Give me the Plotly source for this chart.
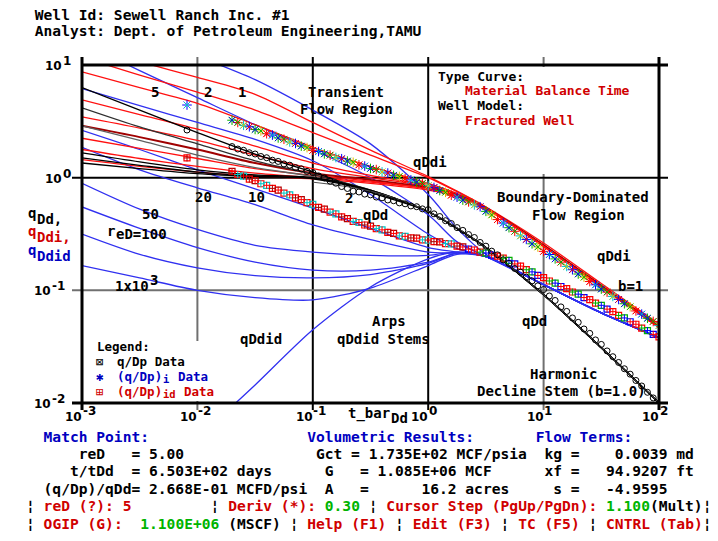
import re
import numpy as np
import plotly.graph_objects as go

# ---------------------------------------------------------------------------
# Type curves for a fractured well (material balance time), log10 values.
# Common dimensionless-time grid for every type curve.
# ---------------------------------------------------------------------------
log_t_grid = [-3.0, -2.5, -2.0, -1.5, -1.0, -0.5, 0.0, 0.25, 0.5, 1.0, 1.5, 2.0]

# qDdi (red) curves, reD = 1, 2, 5, 10, 20, 50, 100, 200, 1000
qddi_re1 = [1.18, 1.03, 0.89, 0.74, 0.49, 0.245, 0.01, -0.12, -0.26, -0.58, -0.94, -1.30]
qddi_re2 = [1.07, 0.91, 0.76, 0.60, 0.40, 0.20, 0.00, -0.125, -0.26, -0.60, -0.96, -1.32]
qddi_re5 = [0.94, 0.80, 0.66, 0.47, 0.27, 0.10, -0.05, -0.14, -0.27, -0.60, -0.96, -1.32]
qddi_re10 = [0.69, 0.56, 0.43, 0.28, 0.13, 0.02, -0.07, -0.15, -0.27, -0.60, -0.96, -1.32]
qddi_re20 = [0.54, 0.44, 0.33, 0.20, 0.08, 0.00, -0.08, -0.15, -0.27, -0.60, -0.96, -1.32]
qddi_re50 = [0.46, 0.36, 0.25, 0.13, 0.04, -0.02, -0.09, -0.155, -0.27, -0.60, -0.96, -1.32]
qddi_re100 = [0.35, 0.26, 0.17, 0.08, 0.02, -0.03, -0.10, -0.16, -0.27, -0.61, -0.97, -1.33]
qddi_re200 = [0.25, 0.17, 0.10, 0.04, 0.00, -0.04, -0.10, -0.16, -0.27, -0.61, -0.97, -1.33]
qddi_re1000 = [0.16, 0.10, 0.05, 0.015, -0.01, -0.05, -0.11, -0.17, -0.28, -0.61, -0.97, -1.33]

# qDd (black) curves, reD = 5, 10, 20, 50, 100, 1000
qdd_re5 = [0.80, 0.60, 0.40, 0.21, 0.05, -0.13, -0.30, -0.45, -0.62, -1.04, -1.51, -2.00]
qdd_re10 = [0.62, 0.45, 0.30, 0.15, 0.03, -0.11, -0.30, -0.45, -0.62, -1.04, -1.51, -2.00]
qdd_re20 = [0.46, 0.33, 0.20, 0.09, 0.01, -0.11, -0.30, -0.45, -0.62, -1.04, -1.51, -2.00]
qdd_re50 = [0.22, 0.14, 0.07, 0.025, 0.00, -0.11, -0.30, -0.45, -0.62, -1.04, -1.51, -2.00]
qdd_re100 = [0.175, 0.11, 0.05, 0.015, -0.005, -0.115, -0.30, -0.45, -0.62, -1.04, -1.51, -2.00]
qdd_re1000 = [0.13, 0.08, 0.035, 0.008, -0.01, -0.12, -0.30, -0.45, -0.62, -1.04, -1.51, -2.00]

# qDdid (blue) curves, reD = 1, 2, 5, 10, 20, 50, 100, 300, 1000
qddid_re1 = [1.50, 1.30, 1.08, 0.87, 0.60, 0.30, -0.15, -0.45, -0.68, -0.95, -1.20, -1.42]
qddid_re2 = [1.20, 0.95, 0.71, 0.47, 0.25, 0.00, -0.33, -0.57, -0.70, -0.95, -1.20, -1.42]
qddid_re5 = [0.79, 0.64, 0.49, 0.34, 0.15, -0.15, -0.50, -0.63, -0.70, -0.95, -1.20, -1.42]
qddid_re10 = [0.42, 0.25, 0.07, -0.10, -0.27, -0.45, -0.62, -0.66, -0.70, -0.95, -1.20, -1.42]
qddid_re20 = [0.27, 0.07, -0.09, -0.24, -0.42, -0.55, -0.66, -0.67, -0.70, -0.95, -1.20, -1.42]
qddid_re50 = [-0.05, -0.28, -0.46, -0.60, -0.66, -0.69, -0.69, -0.66, -0.70, -0.95, -1.20, -1.42]
qddid_re100 = [-0.26, -0.45, -0.62, -0.75, -0.82, -0.82, -0.75, -0.67, -0.70, -0.95, -1.20, -1.42]
qddid_re300 = [-0.50, -0.68, -0.80, -0.87, -0.89, -0.86, -0.76, -0.67, -0.70, -0.95, -1.20, -1.42]
qddid_re1000 = [-0.78, -0.89, -1.00, -1.065, -1.085, -0.98, -0.78, -0.68, -0.70, -0.95, -1.20, -1.42]

# Arps qDdid stem and harmonic (b = 1) qDd decline stem
arps_log_t = [-1.70, -1.50, -1.00, -0.50, 0.00, 0.25, 0.50]
arps_log_q = [-2.03, -1.84, -1.35, -0.97, -0.72, -0.66, -0.70]
harm_log_t = [-1.0, -0.5, 0.0, 0.5, 1.0, 1.5, 2.0]
harm_log_q = [-0.04, -0.12, -0.30, -0.62, -1.04, -1.51, -2.00]

# ---------------------------------------------------------------------------
# Well data (log10), shared time values for the three normalised rates
# ---------------------------------------------------------------------------
log_t_data = [-2.09, -1.70, -1.65, -1.60, -1.55, -1.50, -1.45, -1.40, -1.35, -1.30,
              -1.25, -1.20, -1.15, -1.10, -1.05, -1.00, -0.95, -0.90, -0.85, -0.80,
              -0.75, -0.70, -0.65, -0.60, -0.55, -0.50, -0.45, -0.40, -0.35, -0.30,
              -0.25, -0.20, -0.15, -0.10, -0.05, 0.00, 0.05, 0.10, 0.15, 0.20,
              0.25, 0.30, 0.35, 0.40, 0.45, 0.50, 0.55, 0.60, 0.65, 0.70,
              0.75, 0.80, 0.85, 0.90, 0.95, 1.00, 1.05, 1.10, 1.15, 1.20,
              1.25, 1.30, 1.35, 1.40, 1.45, 1.50, 1.55, 1.60, 1.65, 1.70,
              1.75, 1.80, 1.85, 1.90, 1.95, 2.00]
# q/Dp data
log_q_dp = [0.423, 0.276, 0.254, 0.243, 0.221, 0.210, 0.188, 0.177, 0.155, 0.144,
            0.122, 0.111, 0.089, 0.078, 0.056, 0.045, 0.016, -0.002, -0.031, -0.049,
            -0.079, -0.096, -0.120, -0.127, -0.146, -0.153, -0.172, -0.179, -0.198, -0.205,
            -0.224, -0.232, -0.251, -0.258, -0.277, -0.284, -0.321, -0.345, -0.382, -0.407,
            -0.443, -0.468, -0.505, -0.531, -0.575, -0.608, -0.652, -0.685, -0.729, -0.762,
            -0.806, -0.839, -0.883, -0.916, -0.960, -0.993, -1.050, -1.090, -1.147, -1.187,
            -1.245, -1.284, -1.343, -1.382, -1.440, -1.480, -1.538, -1.589, -1.640, -1.696,
            -1.744, -1.800, -1.849, -1.905, -1.955, -2.010]
# (q/Dp)i data
log_q_dpi = [0.645, 0.510, 0.490, 0.465, 0.452, 0.428, 0.415, 0.390, 0.378, 0.353,
             0.341, 0.317, 0.304, 0.280, 0.267, 0.243, 0.232, 0.211, 0.200, 0.179,
             0.168, 0.147, 0.136, 0.114, 0.103, 0.082, 0.072, 0.051, 0.041, 0.021,
             0.011, -0.010, -0.020, -0.040, -0.051, -0.071, -0.087, -0.114, -0.130, -0.156,
             -0.173, -0.199, -0.215, -0.242, -0.258, -0.299, -0.331, -0.372, -0.403, -0.444,
             -0.476, -0.517, -0.548, -0.587, -0.615, -0.654, -0.682, -0.721, -0.750, -0.788,
             -0.817, -0.855, -0.884, -0.922, -0.951, -0.989, -1.016, -1.054, -1.081, -1.119,
             -1.146, -1.183, -1.211, -1.248, -1.276, -1.313]
# (q/Dp)id data
log_q_dpid = [0.175, 0.055, 0.028, 0.014, -0.013, -0.027, -0.054, -0.068, -0.095, -0.110,
              -0.137, -0.152, -0.179, -0.195, -0.222, -0.237, -0.264, -0.279, -0.306, -0.321,
              -0.348, -0.363, -0.388, -0.398, -0.420, -0.430, -0.452, -0.463, -0.485, -0.495,
              -0.517, -0.521, -0.535, -0.537, -0.552, -0.554, -0.568, -0.570, -0.585, -0.588,
              -0.607, -0.615, -0.634, -0.642, -0.661, -0.669, -0.688, -0.696, -0.715, -0.734,
              -0.766, -0.785, -0.817, -0.836, -0.868, -0.887, -0.917, -0.936, -0.966, -0.985,
              -1.015, -1.034, -1.064, -1.083, -1.113, -1.133, -1.167, -1.189, -1.223, -1.245,
              -1.279, -1.301, -1.335, -1.357, -1.391, -1.413]

# ---------------------------------------------------------------------------
# Page geometry
# ---------------------------------------------------------------------------
W, H = 718, 541
ML, MR, MT, MB = 82, 59, 65, 138
PW, PH = W - ML - MR, H - MT - MB
X_RANGE = (-3.0, 2.0)
Y_RANGE = (-2.0, 1.0)


def px(x):
    return (x - ML) / PW


def py(y):
    return (H - MB - y) / PH


def lx(lt):
    return (lt - X_RANGE[0]) / (X_RANGE[1] - X_RANGE[0])


def ly(lq):
    return (lq - Y_RANGE[0]) / (Y_RANGE[1] - Y_RANGE[0])


MONO = "DejaVu Sans Mono"
RED = "#d00000"
GREEN = "#00b400"
BLUE = "#0000c0"
BLACK = "#000000"
NB = "\u00a0"

fig = go.Figure()
tg = 10 ** np.array(log_t_grid)


def curve(vals, color, width=1.3):
    fig.add_trace(go.Scatter(
        x=tg, y=10 ** np.array(vals), mode="lines",
        line=dict(color=color, width=width, shape="spline", smoothing=0.8),
        hoverinfo="skip", showlegend=False))


for v in [qddid_re1, qddid_re2, qddid_re5, qddid_re10, qddid_re20,
          qddid_re50, qddid_re100, qddid_re300, qddid_re1000]:
    curve(v, "#3030f0")
fig.add_trace(go.Scatter(
    x=10 ** np.array(arps_log_t), y=10 ** np.array(arps_log_q), mode="lines",
    line=dict(color="#3030f0", width=1.3, shape="spline", smoothing=0.8),
    hoverinfo="skip", showlegend=False))

for v, c, w in [(qddi_re1, "#ff1010", 1.3), (qddi_re2, "#ff1010", 1.3),
                (qddi_re5, "#ff1010", 1.3), (qddi_re10, "#ff1010", 1.3),
                (qddi_re20, "#ff1010", 1.3), (qddi_re50, "#a00000", 2.0),
                (qddi_re100, "#ff1010", 1.3), (qddi_re200, "#ff1010", 1.3),
                (qddi_re1000, "#ff1010", 1.3)]:
    curve(v, c, w)

for v, c in [(qdd_re5, "#000000"), (qdd_re10, "#303030"), (qdd_re20, "#606060"),
             (qdd_re50, "#000000"), (qdd_re100, "#000000"), (qdd_re1000, "#000000")]:
    curve(v, c)

fig.add_trace(go.Scatter(
    x=10 ** np.array(harm_log_t), y=10 ** np.array(harm_log_q), mode="lines",
    line=dict(color="#505050", width=1.0, shape="spline"),
    hoverinfo="skip", showlegend=False))

# data points
td = 10 ** np.array(log_t_data)
n = len(log_t_data)
cyc_i = ["#0000ff", "#00b000", "#ff0000", "#00c8c8", "#0000ff", "#00b000", "#e0c000", "#ff0000"]
cyc_id = ["#ff0000", "#b00000", "#ff0000", "#00c8c8"]
cyc_id_late = ["#ff0000", "#00b000", "#0000ff", "#ff0000"]
col_i = [cyc_i[k % len(cyc_i)] for k in range(n)]
col_i2 = [cyc_i[(k + 3) % len(cyc_i)] for k in range(n)]
col_id = [(cyc_id_late if log_t_data[k] > 0.3 else cyc_id)[k % 4] for k in range(n)]
col_id2 = [(cyc_id_late if log_t_data[k] > 0.3 else cyc_id)[(k + 1) % 4] for k in range(n)]

qi = 10 ** np.array(log_q_dpi)
qid = 10 ** np.array(log_q_dpid)
qk = 10 ** np.array(log_q_dp)


def dots(y, symbol, size, colors, width=1.1):
    fig.add_trace(go.Scatter(
        x=td, y=y, mode="markers",
        marker=dict(symbol=symbol, size=size, color=colors,
                    line=dict(color=colors, width=width)),
        hoverinfo="skip", showlegend=False))


dots(qid, "square-open", 6, col_id, 1.2)
dots(qid, "cross-thin-open", 5, col_id2, 1.0)
dots(qi, "asterisk-open", 8, col_i, 1.0)
dots(qi, "x-thin-open", 6, col_i2, 1.0)
dots(qk, "circle-open", 6, "black", 1.0)

# ---------------------------------------------------------------------------
# Frame, grid and blanked boxes
# ---------------------------------------------------------------------------
shapes = []


def seg(x0, y0, x1, y1, color, width, layer="below"):
    shapes.append(dict(type="line", xref="paper", yref="paper", x0=x0, y0=y0,
                       x1=x1, y1=y1, line=dict(color=color, width=width), layer=layer))


for lt, c in [(-2, "#707070"), (-1, "#000000"), (0, "#000000"), (1, "#707070")]:
    seg(lx(lt), py(410), lx(lt), py(57), c, 2)
for lq, c in [(0, "#000000"), (-1, "#707070")]:
    seg(px(72), ly(lq), px(668), ly(lq), c, 2)

for x0, y0, x1, y1 in [(432, 67, 657, 174), (84, 341, 232, 401)]:
    shapes.append(dict(type="rect", xref="paper", yref="paper", x0=px(x0), x1=px(x1),
                       y0=py(y1), y1=py(y0), fillcolor="white", line=dict(width=0),
                       layer="below"))

seg(px(82), py(65), px(668), py(65), BLACK, 3, "above")
seg(px(72), py(403), px(668), py(403), BLACK, 3, "above")
seg(px(82), py(57), px(82), py(410), BLACK, 3, "above")
seg(px(659), py(57), px(659), py(410), BLACK, 3, "above")

# ---------------------------------------------------------------------------
# Text
# ---------------------------------------------------------------------------
anns = []


def keep_spaces(s):
    parts = re.split(r"(<[^>]*>)", s)
    return "".join(p if p.startswith("<") else p.replace(" ", NB) for p in parts)


def ann(text, x, y, color=BLACK, size=14, anchor="left", family=MONO, bold=True):
    t = keep_spaces(text)
    anns.append(dict(text=("<b>%s</b>" % t) if bold else t, x=px(x), y=py(y),
                     xref="paper", yref="paper", xanchor=anchor, yanchor="middle",
                     showarrow=False, borderpad=0, borderwidth=0,
                     font=dict(family=family, size=size, color=color)))


def row(y, segments, size=14.6, x0=26):
    out, col = [], 0
    for c, txt, color in segments:
        if c > col:
            out.append(NB * (c - col))
            col = c
        out.append('<span style="color:%s">%s</span>' % (color, txt.replace(" ", NB)))
        col += len(txt)
    anns.append(dict(text="<b>%s</b>" % "".join(out), x=px(x0), y=py(y),
                     xref="paper", yref="paper", xanchor="left", yanchor="middle",
                     showarrow=False, borderpad=0, borderwidth=0,
                     font=dict(family=MONO, size=size, color=BLACK)))


# header
row(14, [(1, "Well Id: Sewell Ranch Inc. #1", BLACK)])
row(31, [(1, "Analyst: Dept. of Petroleum Engineering,TAMU", BLACK)])

# footer
row(436, [(2, "Match Point:", BLUE), (32, "Volumetric Results:", BLUE), (58, "Flow Terms:", BLUE)])
row(453, [(6, "reD   = 5.00", BLACK), (33, "Gct = 1.735E+02 MCF/psia", BLACK),
          (59, "kg =    0.0039 md", BLACK)])
row(470, [(5, "t/tDd  = 6.503E+02 days", BLACK), (34, "G   = 1.085E+06 MCF", BLACK),
          (59, "xf =   94.9207 ft", BLACK)])
row(488, [(2, "(q/Dp)/qDd= 2.668E-01 MCFD/psi", BLACK), (34, "A   =      16.2 acres", BLACK),
          (60, "s =   -4.9595", BLACK)])
row(505, [(0, "\u00a6", BLACK), (2, "reD (?): 5", RED), (21, "\u00a6", BLACK),
          (23, "Deriv (*): ", RED), (34, "0.30", GREEN), (39, "\u00a6", BLACK),
          (41, "Cursor Step (PgUp/PgDn): ", RED), (66, "1.100", GREEN),
          (71, "(Mult)\u00a6", BLACK)])
row(523, [(0, "\u00a6", BLACK), (2, "OGIP (G):", RED), (13, "1.100E+06", GREEN),
          (23, "(MSCF)", BLACK), (30, "\u00a6", BLACK), (32, "Help (F1)", RED),
          (42, "\u00a6", BLACK), (44, "Edit (F3)", RED), (54, "\u00a6", BLACK),
          (56, "TC (F5)", RED), (64, "\u00a6", BLACK), (66, "CNTRL (Tab)", RED),
          (77, "\u00a6", BLACK)])

# axis tick labels: mantissa and raised exponent placed side by side
TICKF = "DejaVu Sans"
for lq, s in [(1, "1"), (0, "0"), (-1, "-1"), (-2, "-2")]:
    yy = 403 - (lq + 2) * PH / 3
    xr = 62 if len(s) == 1 else 51
    ann("10", xr, yy + 1, size=12, anchor="right", family=TICKF)
    ann(s, xr + 0.5, yy - 4, size=12, anchor="left", family=TICKF)
for lt, s in [(-3, "-3"), (-2, "-2"), (-1, "-1"), (0, "0"), (1, "1"), (2, "2")]:
    xx = 82 + (lt + 3) * PW / 5
    ann("10", xx, 417, size=12, anchor="right", family=TICKF)
    ann(s, xx + 0.5, 411, size=12, anchor="left", family=TICKF)
ann("t_bar", 348, 413)
ann("Dd", 391, 418)

# y-axis title
ann("q", 28, 213)
ann("Dd,", 37, 219)
ann("q", 28, 231, RED)
ann("Ddi,", 37, 237, RED)
ann("q", 28, 250, BLUE)
ann("Ddid", 37, 256, BLUE)

# region and curve labels
ann("Transient", 308, 92)
ann("Flow Region", 300, 109)
ann("Type Curve:", 438, 76, size=13)
ann("Material Balance Time", 465, 91, RED, size=13)
ann("Well Model:", 438, 106, size=13)
ann("Fractured Well", 465, 121, RED, size=13)
ann("qDdi", 413, 162)
ann("Boundary-Dominated", 497, 197)
ann("Flow Region", 532, 215)
ann("qDdi", 597, 256)
ann("b=1", 618, 286)
ann("qDd", 363, 215)
ann("qDd", 522, 321)
ann("Arps", 372, 321)
ann("qDdid Stems", 337, 339)
ann("qDdid", 240, 339)
ann("Harmonic", 530, 374)
ann("Decline Stem (b=1.0)", 477, 391)
ann("5", 151, 92)
ann("2", 204, 92)
ann("1", 238, 92)
ann("20", 195, 197)
ann("10", 248, 197)
ann("2", 345, 198)
ann("50", 142, 214)
ann("r", 107, 231)
ann("eD=100", 116, 234)
ann("1x10", 115, 286)
ann("3", 149.5, 280)

# legend
LS = 12.5
ann("Legend:", 97, 346, size=LS)
ann("\u22a0", 96, 361, size=LS, bold=False)
ann("q/Dp Data", 117, 361, size=LS)
ann("\u2731", 96, 376, BLUE, size=LS, bold=False)
ann("(q/Dp)", 117, 376, BLUE, size=LS)
ann("i", 163, 378.5, BLUE, size=10.5)
ann("Data", 178, 376, BLUE, size=LS)
ann("\u229e", 96, 391, RED, size=LS, bold=False)
ann("(q/Dp)", 117, 391, RED, size=LS)
ann("id", 163, 393.5, RED, size=10.5)
ann("Data", 184, 391, RED, size=LS)

fig.update_layout(
    width=W, height=H,
    margin=dict(l=ML, r=MR, t=MT, b=MB),
    paper_bgcolor="white", plot_bgcolor="white",
    showlegend=False,
    xaxis=dict(type="log", range=list(X_RANGE), showgrid=False, zeroline=False,
               showticklabels=False, ticks="", showline=False),
    yaxis=dict(type="log", range=list(Y_RANGE), showgrid=False, zeroline=False,
               showticklabels=False, ticks="", showline=False),
    shapes=shapes,
    annotations=anns,
)

fig.write_html("out.html")
